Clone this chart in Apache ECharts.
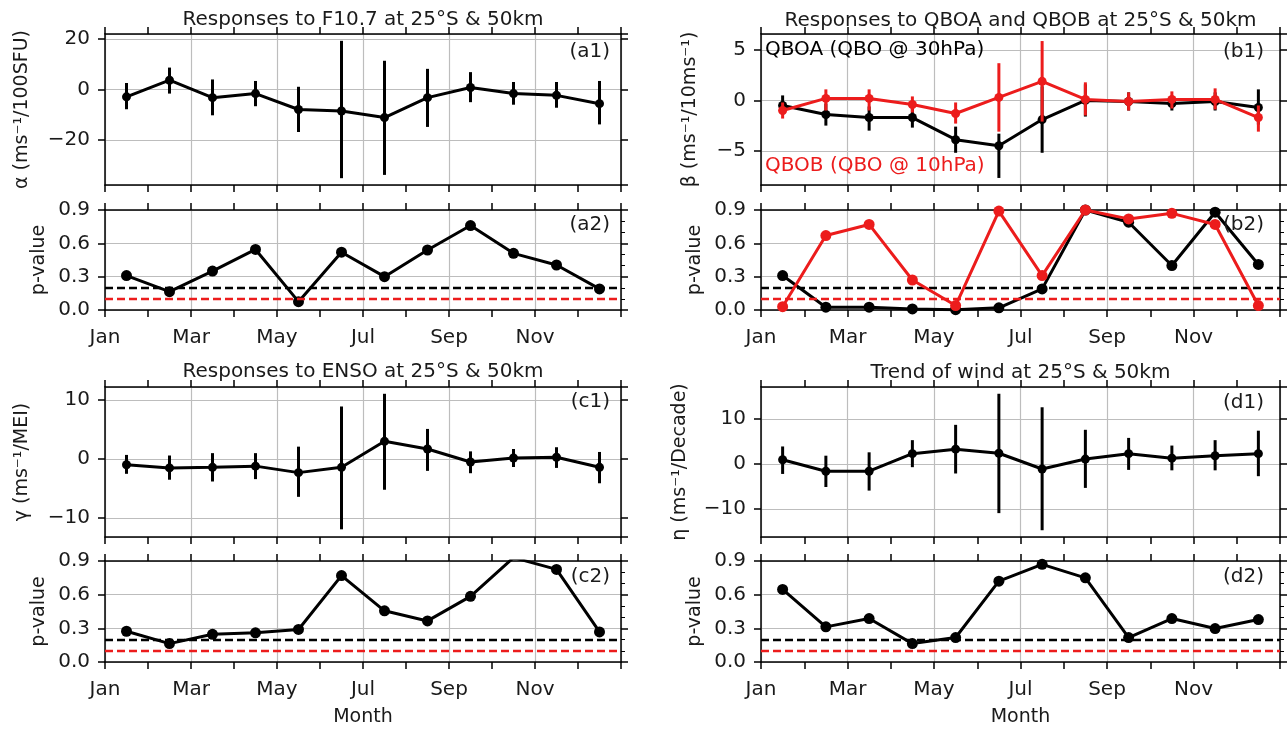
<!DOCTYPE html>
<html>
<head>
<meta charset="utf-8">
<script src="https://cdn.jsdelivr.net/npm/echarts@6/dist/echarts.min.js"></script>
<style>
    html, body { margin: 0; padding: 0; background: #fff; }
    #chart { width: 1288px; height: 729px; }
</style>
</head>
<body>
<div id="chart"></div>
<script>
const months = ['Jan', 'Feb', 'Mar', 'Apr', 'May', 'Jun', 'Jul', 'Aug', 'Sep', 'Oct', 'Nov', 'Dec'];
const monthTickLabels = ['Jan', 'Mar', 'May', 'Jul', 'Sep', 'Nov'];
const pThresholds = [0.2, 0.1];

// (a) F10.7
const alphaVal = [-2.9, 3.7, -3.2, -1.6, -7.9, -8.5, -11.1, -3.2, 0.8, -1.6, -2.3, -5.6];
const alphaLow = [-7.8, -1.6, -10.2, -6.6, -16.8, -35.1, -33.8, -14.8, -5.0, -6.0, -7.2, -13.8];
const alphaHigh = [2.6, 8.7, 4.0, 3.4, 1.1, 19.3, 11.4, 8.2, 6.9, 3.0, 3.0, 3.4];
const alphaP = [0.31, 0.165, 0.35, 0.545, 0.075, 0.52, 0.30, 0.54, 0.76, 0.51, 0.405, 0.19];

// (b) QBOA (black) and QBOB (red)
const betaA = [-0.5, -1.4, -1.7, -1.7, -3.9, -4.5, -1.9, 0.0, -0.1, -0.3, -0.1, -0.7];
const betaALow = [-1.4, -2.5, -3.0, -2.7, -5.2, -7.7, -5.2, -1.6, -1.0, -1.0, -1.0, -2.4];
const betaAHigh = [0.5, -0.3, -0.6, -0.8, -2.6, -3.3, 1.4, 1.6, 0.8, 0.4, 0.8, 1.1];
const betaB = [-1.0, 0.2, 0.2, -0.4, -1.3, 0.3, 1.9, 0.1, -0.1, 0.1, 0.1, -1.7];
const betaBLow = [-1.8, -1.0, -1.0, -1.2, -2.3, -3.1, -2.1, -1.5, -1.0, -0.8, -0.9, -3.1];
const betaBHigh = [-0.2, 1.1, 1.1, 0.4, -0.2, 3.7, 5.9, 1.8, 0.8, 0.9, 1.2, -0.5];
const pQboA = [0.31, 0.025, 0.025, 0.01, 0.003, 0.02, 0.19, 0.9, 0.79, 0.40, 0.88, 0.41];
const pQboB = [0.03, 0.67, 0.77, 0.27, 0.04, 0.89, 0.31, 0.9, 0.82, 0.87, 0.77, 0.04];

// (c) ENSO
const gammaVal = [-0.96, -1.5, -1.4, -1.2, -2.3, -1.4, 3.0, 1.7, -0.5, 0.17, 0.3, -1.4];
const gammaLow = [-2.5, -3.5, -3.8, -3.4, -6.4, -11.9, -5.2, -2.0, -2.4, -1.35, -1.5, -4.1];
const gammaHigh = [0.7, 0.6, 1.0, 1.0, 2.1, 8.9, 11.05, 5.1, 1.3, 1.7, 2.0, 1.2];
const gammaP = [0.274, 0.164, 0.247, 0.26, 0.29, 0.77, 0.456, 0.366, 0.585, 0.93, 0.825, 0.268];

// (d) trend
const etaVal = [0.96, -1.6, -1.6, 2.3, 3.3, 2.4, -1.1, 1.1, 2.3, 1.3, 1.85, 2.3];
const etaLow = [-2.2, -5.1, -5.9, -0.7, -2.1, -10.9, -14.7, -5.3, -1.3, -1.4, -1.4, -2.7];
const etaHigh = [3.9, 1.85, 2.6, 5.3, 8.7, 15.6, 12.6, 7.6, 5.8, 4.1, 5.3, 7.4];
const etaP = [0.647, 0.313, 0.387, 0.164, 0.218, 0.72, 0.87, 0.75, 0.218, 0.387, 0.298, 0.378];

const FONT = 'DejaVu Sans';
const BLACK = '#000';
const RED = '#ec1c1c';
const GRID_COLOR = '#bdbdbd';
const TEXT_COLOR = '#1a1a1a';
const TICK_FS = 20;
const NAME_FS = 19;

const LEFT_X = 105, LEFT_W = 516, RIGHT_X = 761, RIGHT_W = 519;

const panels = [
    {
        grid: { left: LEFT_X, top: 34, width: LEFT_W, height: 151 },
        min: -37.8, max: 22, name: 'α (ms⁻¹/100SFU)', nameGap: 73,
        lines: [{ val: alphaVal, low: alphaLow, high: alphaHigh, color: BLACK }],
    },
    {
        grid: { left: LEFT_X, top: 210, width: LEFT_W, height: 100 }, p: true, months: true,
        name: 'p-value', nameGap: 56,
        lines: [{ val: alphaP, color: BLACK }],
    },
    {
        grid: { left: RIGHT_X, top: 34, width: RIGHT_W, height: 151 },
        min: -8.4, max: 6.6, name: 'β (ms⁻¹/10ms⁻¹)', nameGap: 61,
        lines: [
            { val: betaA, low: betaALow, high: betaAHigh, color: BLACK },
            { val: betaB, low: betaBLow, high: betaBHigh, color: RED },
        ],
    },
    {
        grid: { left: RIGHT_X, top: 210, width: RIGHT_W, height: 100 }, p: true, months: true,
        name: 'p-value', nameGap: 56,
        lines: [{ val: pQboA, color: BLACK }, { val: pQboB, color: RED }],
    },
    {
        grid: { left: LEFT_X, top: 387, width: LEFT_W, height: 150 },
        min: -13.2, max: 12.2, name: 'γ (ms⁻¹/MEI)', nameGap: 73,
        lines: [{ val: gammaVal, low: gammaLow, high: gammaHigh, color: BLACK }],
    },
    {
        grid: { left: LEFT_X, top: 561, width: LEFT_W, height: 101 }, p: true, months: true, xName: 'Month',
        name: 'p-value', nameGap: 56,
        lines: [{ val: gammaP, color: BLACK }],
    },
    {
        grid: { left: RIGHT_X, top: 387, width: RIGHT_W, height: 150 },
        min: -16.2, max: 17.1, name: 'η (ms⁻¹/Decade)', nameGap: 71,
        lines: [{ val: etaVal, low: etaLow, high: etaHigh, color: BLACK }],
    },
    {
        grid: { left: RIGHT_X, top: 561, width: RIGHT_W, height: 101 }, p: true, months: true, xName: 'Month',
        name: 'p-value', nameGap: 56,
        lines: [{ val: etaP, color: BLACK }],
    },
];

const frameLine = { show: true, onZero: false, lineStyle: { color: BLACK, width: 1.5 } };
const tick = { show: true, inside: false, length: 7, lineStyle: { color: BLACK, width: 1.5 } };
const fmtNum = (v) => (v < 0 ? '\u2212' + (-v) : String(v));

const grids = [];
const xAxes = [];
const yAxes = [];
const series = [];

panels.forEach((pn, i) => {
    grids.push({ ...pn.grid, containLabel: false, outerBoundsMode: 'none' });
    const yRange = pn.p ? { min: 0, max: 0.9, interval: 0.3 } : { min: pn.min, max: pn.max, splitNumber: 3 };

    // x axes: hidden category axis for data, value axis for ticks / grid, mirrored top ticks
    xAxes.push({ gridIndex: i, type: 'category', data: months, boundaryGap: true, show: false });
    xAxes.push({
        gridIndex: i, type: 'value', min: 0, max: 12, interval: 2, position: 'bottom',
        axisLine: frameLine, axisTick: tick,
        minorTick: { show: true, splitNumber: 2, length: 7, lineStyle: { color: BLACK, width: 1.5 } },
        axisLabel: {
            show: !!pn.months, margin: 18, fontSize: TICK_FS, fontFamily: FONT, color: TEXT_COLOR,
            formatter: (v) => monthTickLabels[v / 2] || '',
        },
        splitLine: { show: true, lineStyle: { color: GRID_COLOR, width: 1.2 } },
        name: pn.xName || '', nameLocation: 'middle', nameGap: 46,
        nameTextStyle: { fontSize: NAME_FS, fontFamily: FONT, color: TEXT_COLOR },
    });
    xAxes.push({
        gridIndex: i, type: 'value', min: 0, max: 12, interval: 1, position: 'top',
        axisLine: frameLine, axisTick: tick, axisLabel: { show: false }, splitLine: { show: false },
    });

    yAxes.push({
        gridIndex: i, type: 'value', position: 'left', ...yRange,
        axisLine: frameLine, axisTick: tick,
        axisLabel: {
            margin: 15, fontSize: TICK_FS, fontFamily: FONT, color: TEXT_COLOR,
            showMinLabel: !!pn.p, showMaxLabel: !!pn.p,
            formatter: pn.p ? (v) => v.toFixed(1) : fmtNum,
        },
        splitLine: { show: true, lineStyle: { color: GRID_COLOR, width: 1.2 } },
        name: pn.name, nameLocation: 'middle', nameRotate: 90, nameGap: pn.nameGap,
        nameTextStyle: { fontSize: NAME_FS, fontFamily: FONT, color: TEXT_COLOR },
    });
    yAxes.push({
        gridIndex: i, type: 'value', position: 'right', ...yRange,
        axisLine: frameLine, axisTick: tick,
        minorTick: { show: !!pn.p, splitNumber: 3, length: 4, lineStyle: { color: BLACK, width: 1 } },
        axisLabel: { show: false }, splitLine: { show: false },
    });

    pn.lines.forEach((ln, k) => {
        if (ln.low) {
            series.push({
                type: 'custom',
                xAxisIndex: i * 3, yAxisIndex: i * 2,
                data: ln.low.map((lo, j) => [j, lo, ln.high[j]]),
                encode: { x: 0, y: [1, 2] },
                renderItem(params, api) {
                    const a = api.coord([api.value(0), api.value(1)]);
                    const b = api.coord([api.value(0), api.value(2)]);
                    return {
                        type: 'line',
                        shape: { x1: a[0], y1: a[1], x2: b[0], y2: b[1] },
                        style: { stroke: ln.color, lineWidth: 3 },
                    };
                },
                silent: true, z: 2 + k * 2,
            });
        }
        const s = {
            type: 'line',
            xAxisIndex: i * 3, yAxisIndex: i * 2,
            data: ln.val,
            symbol: 'circle', symbolSize: pn.p ? 11 : 9,
            lineStyle: { color: ln.color, width: 3 },
            itemStyle: { color: ln.color },
            clip: true, silent: true, z: 3 + k * 2,
        };
        if (pn.p && k === 0) {
            s.markLine = {
                silent: true, symbol: 'none', label: { show: false },
                lineStyle: { type: [8, 4], width: 2.4, opacity: 1 },
                emphasis: { disabled: true },
                data: pThresholds.map((t, m) => ({
                    yAxis: t,
                    lineStyle: { color: m === 0 ? BLACK : RED, type: [8, 4], width: 2.4 },
                })),
            };
        }
        series.push(s);
    });
});

const txt = (text, x, y, align, color, size) => ({
    type: 'text', x, y, z: 100,
    style: { text, fill: color || TEXT_COLOR, font: `${size || 20}px "${FONT}"`, textAlign: align || 'center', textVerticalAlign: 'middle' },
});

const LCX = LEFT_X + LEFT_W / 2, RCX = RIGHT_X + RIGHT_W / 2;
const LTAG = LEFT_X + LEFT_W - 11, RTAG = RIGHT_X + RIGHT_W - 16;

const graphics = [
    txt('Responses to F10.7 at 25°S & 50km', LCX, 20),
    txt('Responses to QBOA and QBOB at 25°S & 50km', RCX, 21),
    txt('Responses to ENSO at 25°S & 50km', LCX, 372),
    txt('Trend of wind at 25°S & 50km', RCX, 373),
    txt('(a1)', LTAG, 52, 'right'),
    txt('(a2)', LTAG, 225, 'right'),
    txt('(b1)', RTAG, 52, 'right'),
    txt('(b2)', RTAG, 225, 'right'),
    txt('(c1)', LTAG, 402, 'right'),
    txt('(c2)', LTAG, 577, 'right'),
    txt('(d1)', RTAG, 403, 'right'),
    txt('(d2)', RTAG, 577, 'right'),
    txt('QBOA (QBO @ 30hPa)', RIGHT_X + 4, 50, 'left', '#000'),
    txt('QBOB (QBO @ 10hPa)', RIGHT_X + 4, 166, 'left', RED),
];

const chart = echarts.init(document.getElementById('chart'), null, { renderer: 'canvas' });
chart.setOption({
    backgroundColor: '#fff',
    animation: false,
    textStyle: { fontFamily: FONT },
    grid: grids,
    xAxis: xAxes,
    yAxis: yAxes,
    series,
    graphic: graphics,
});
</script>
</body>
</html>
